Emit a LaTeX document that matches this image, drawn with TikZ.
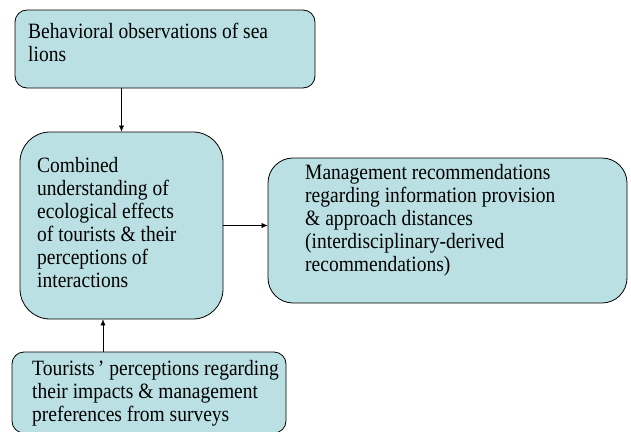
\documentclass[tikz,border=0pt]{standalone}
\usepackage{fontspec}
\setmainfont{Liberation Serif}
\usetikzlibrary{arrows.meta}
\definecolor{boxfill}{RGB}{186,224,227}

\begin{document}
\begin{tikzpicture}[x=1pt,y=-1pt,>={Latex[length=6pt,width=5pt]},
    box/.style={draw,fill=boxfill,line width=0.8pt,inner sep=0pt},
    txt/.style={align=left,inner sep=0pt,anchor=north west,yscale=1.12,
        font=\fontsize{19.5}{20.5}\selectfont}]
    \useasboundingbox (0,0) rectangle (631,431);
    \clip (0,0) rectangle (631,431);

    \node[box,rounded corners=12pt,minimum width=300pt,minimum height=78pt] (obs) at (165,49) {};
    \node[box,rounded corners=30pt,minimum width=203pt,minimum height=187pt] (comb) at (121.5,225.5) {};
    \node[box,rounded corners=25pt,minimum width=359pt,minimum height=145pt] (rec) at (447.5,230.5) {};
    \node[box,rounded corners=12pt,minimum width=274pt,minimum height=81pt] (surv) at (149,392.5) {};

    \node[txt] (obstext) at (28,23) {Behavioral observations of sea\\lions};
    \node[txt] (combtext) at (37,157) {Combined\\understanding of\\ecological effects\\of tourists \& their\\perceptions of\\interactions};
    \node[txt] (rectext) at (305,164) {Management recommendations\\regarding information provision\\\& approach distances\\(interdisciplinary-derived\\recommendations)};
    \node[txt] (survtext) at (32,360) {Tourists\,' perceptions regarding\\their impacts \& management\\preferences from surveys};

    \draw[->] (obs.south -| comb.north) -- (comb.north);
    \draw[->] (comb.east) -- (comb.east -| rec.west);
    \draw[->] ([xshift=-18.5pt]comb.south |- surv.north) -- ([xshift=-18.5pt]comb.south);
\end{tikzpicture}
\end{document}
